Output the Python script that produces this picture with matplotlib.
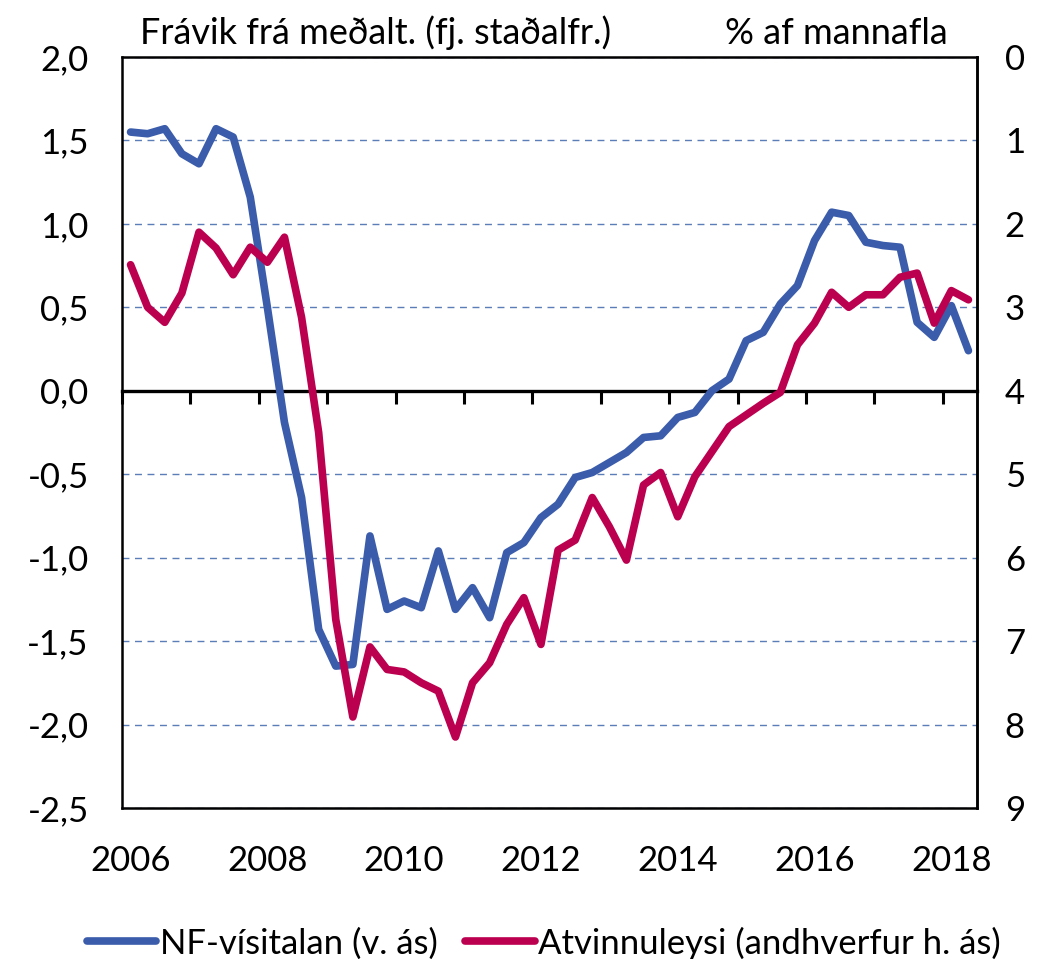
import matplotlib
matplotlib.use("Agg")
import matplotlib.pyplot as plt
import matplotlib.ticker as mticker
import numpy as np

plt.rcParams['font.family'] = ['Lato', 'DejaVu Sans']

# quarterly, 2006Q1 - 2018Q2
year_labels = [str(y) for y in range(2006, 2019, 2)]

# NF-vísitalan, deviation from mean (std units) - left axis
nf_index = [1.55, 1.54, 1.57, 1.42, 1.36, 1.57, 1.52, 1.16,
            0.50, -0.19, -0.64, -1.43, -1.65, -1.64, -0.87, -1.31,
            -1.26, -1.30, -0.96, -1.31, -1.18, -1.36, -0.97, -0.91,
            -0.76, -0.68, -0.52, -0.49, -0.43, -0.37, -0.28, -0.27,
            -0.16, -0.13, 0.00, 0.07, 0.30, 0.35, 0.52, 0.63,
            0.90, 1.07, 1.05, 0.89, 0.87, 0.86, 0.41, 0.32,
            0.51, 0.24]

# unemployment, % of labour force - right axis (inverted)
unemployment = [2.49, 3.00, 3.18, 2.83, 2.10, 2.29, 2.61, 2.28,
                2.46, 2.16, 3.12, 4.50, 6.74, 7.91, 7.07, 7.34,
                7.37, 7.50, 7.60, 8.15, 7.50, 7.26, 6.80, 6.48,
                7.04, 5.91, 5.79, 5.28, 5.63, 6.03, 5.13, 4.98,
                5.51, 5.03, 4.73, 4.43, 4.29, 4.15, 4.02, 3.45,
                3.19, 2.82, 3.00, 2.85, 2.85, 2.64, 2.59, 3.19,
                2.80, 2.91]

BLUE = '#3A5CAB'
RED = '#BC0050'
GRID = '#5B7DB8'
FS = 25
POS = [0.1171, 0.1575, 0.8205, 0.7831]

n = len(nf_index)
x = np.arange(n)

fig = plt.figure(figsize=(10.42, 9.59), dpi=100)
ax = fig.add_axes(POS)

ax.set_xlim(-0.5, n - 0.5)
ax.set_ylim(-2.5, 2.0)
ax.yaxis.set_major_locator(mticker.MultipleLocator(0.5))
ax.yaxis.set_major_formatter(mticker.FuncFormatter(
    lambda v, p: ('%.1f' % (v + 0.0)).replace('.', ',').replace('-0,0', '0,0')))
ax.grid(axis='y', color=GRID, lw=1.0, ls=(0, (5, 4)))
ax.set_axisbelow(True)

# year labels at the first quarter of every second year
ax.set_xticks(np.arange(0, n, 8))
ax.set_xticklabels(year_labels)
ax.tick_params(axis='x', length=0, pad=27, labelsize=FS)
ax.tick_params(axis='y', length=0, pad=24, labelsize=FS)
for s in ax.spines.values():
    s.set_linewidth(1.8)

# category axis crossing at zero, ticks on year boundaries
zax = fig.add_axes(POS)
zax.patch.set_visible(False)
zax.set_xlim(ax.get_xlim())
zax.set_ylim(ax.get_ylim())
for name, s in zax.spines.items():
    s.set_visible(name == 'bottom')
zax.spines['bottom'].set_position(('data', 0))
zax.spines['bottom'].set_linewidth(2.4)
zax.set_xticks(np.arange(-0.5, n, 4))
zax.set_xticklabels([])
zax.set_yticks([])
zax.tick_params(axis='x', direction='out', length=9, width=2.2)

zax.plot(x, nf_index, color=BLUE, lw=5.5, solid_joinstyle='round',
         solid_capstyle='round', zorder=3, label='NF-vísitalan (v. ás)')

ax2 = zax.twinx()
ax2.plot(x, unemployment, color=RED, lw=5.5, solid_joinstyle='round',
         solid_capstyle='round', zorder=3,
         label='Atvinnuleysi (andhverfur h. ás)')
ax2.set_ylim(9, 0)
ax2.set_yticks(range(0, 10))
ax2.tick_params(axis='y', length=0, pad=20, labelsize=FS)
for name, s in ax2.spines.items():
    s.set_visible(name == 'right')
    s.set_linewidth(1.8)

fig.text(140 / 1042, 1 - 33 / 959, 'Frávik frá meðalt. (fj. staðalfr.)',
         fontsize=26, ha='left', va='center')
fig.text(948 / 1042, 1 - 33 / 959, '% af mannafla',
         fontsize=26, ha='right', va='center')

h1, l1 = zax.get_legend_handles_labels()
h2, l2 = ax2.get_legend_handles_labels()
fig.legend(h1 + h2, l1 + l2, loc='center', ncol=2, frameon=False,
           bbox_to_anchor=(0.522, 1 - 943 / 959), fontsize=25,
           handlelength=2.0, handletextpad=0.1, columnspacing=0.8,
           borderaxespad=0)

fig.savefig('out.png', dpi=100)
